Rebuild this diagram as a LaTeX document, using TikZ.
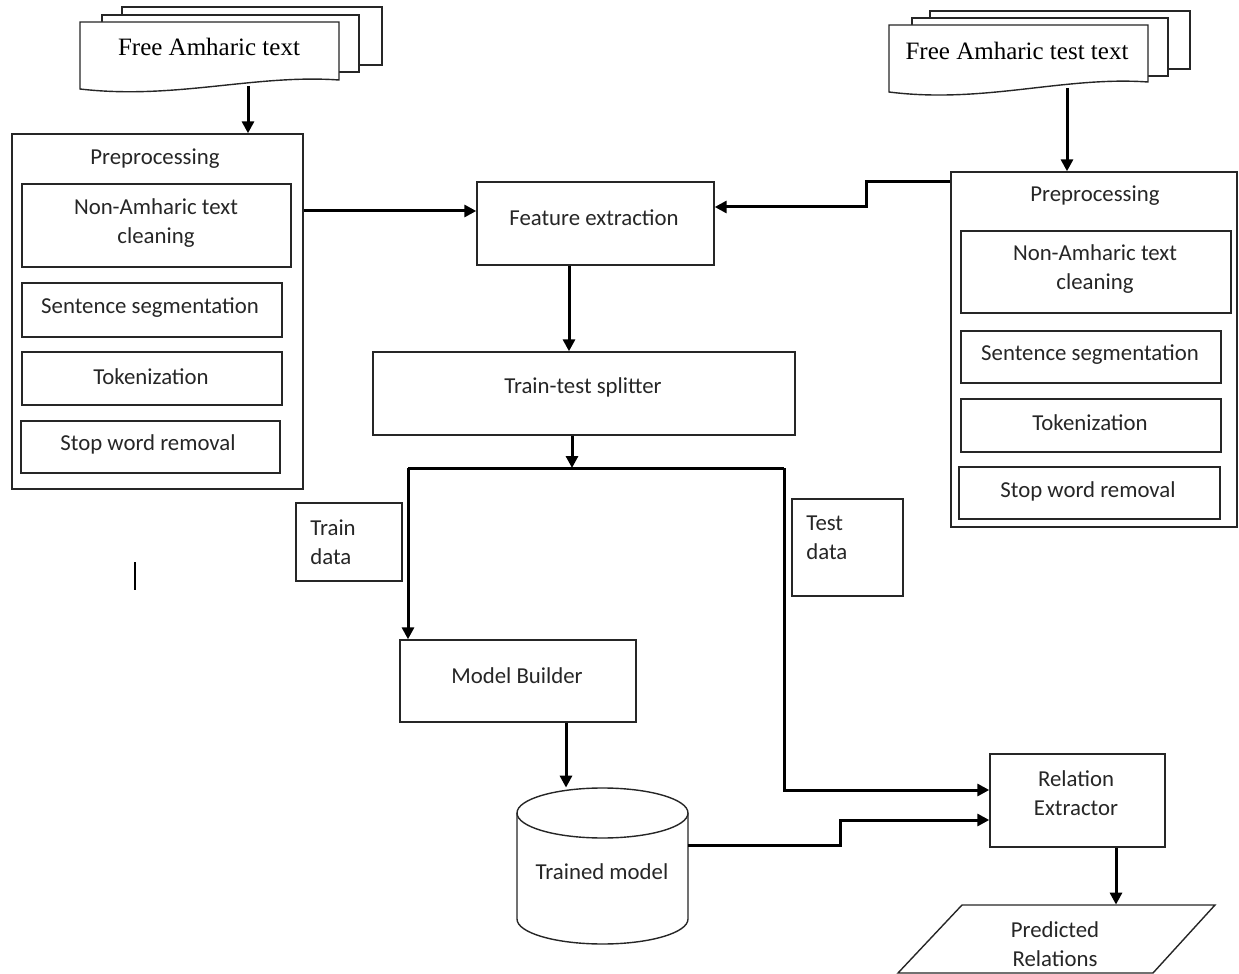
\documentclass[tikz,border=0pt]{standalone}
\usepackage{fontspec}
\setmainfont{Carlito}
\newfontfamily\docfont{Liberation Serif}
\usetikzlibrary{arrows.meta,fit}

\begin{document}
\begin{tikzpicture}[x=0.5pt,y=-0.5pt,
  box/.style={draw=black!85, line width=0.7pt, fill=white, inner sep=0pt},
  txt/.style={font=\fontsize{11.4}{14.5}\selectfont, text=black!85, inner sep=0pt, align=center, yshift=-1.2pt},
  doctxt/.style={font=\docfont\fontsize{12.5}{15}\selectfont, inner sep=0pt},
  sheet/.style={draw=black!85, line width=0.7pt, fill=white},
  flow/.style={line width=1.5pt},
  arr/.style={flow, -{Triangle[length=6pt,width=6pt]}}]
\useasboundingbox (0,0) rectangle (1239,974);

% ---------- training documents ----------
\draw[sheet] (122,7) rectangle (382,65);
\draw[sheet] (102,15) rectangle (359,72);
\draw[sheet] (80,22) -- (339,22) -- (339,80)
  .. controls (255,74) and (175,100) .. (80,89) -- cycle;
\node[doctxt] (docL) at (209,47) {Free Amharic text};
\coordinate (docL-out) at (248,86);

% ---------- test documents ----------
\draw[sheet] (930,11) rectangle (1190,69);
\draw[sheet] (912,18) rectangle (1168,76);
\draw[sheet] (889,25) -- (1148,25) -- (1148,82)
  .. controls (1064,76) and (984,104) .. (889,92) -- cycle;
\node[doctxt] (docR) at (1017,51) {Free Amharic test text};
\coordinate (docR-out) at (1067,88);

% ---------- left preprocessing ----------
\node[box, fit={(12,134) (303,489)}] (prepL) {};
\node[txt] (prepL-t) at (155,156) {Preprocessing};
\node[box, fit={(22,184) (291,267)}] (cleanL) {};
\node[txt] (cleanL-t) at (156,221) {Non-Amharic text\\cleaning};
\node[box, fit={(22,283) (282,337)}] (segL) {};
\node[txt] (segL-t) at (150,305) {Sentence segmentation};
\node[box, fit={(22,352) (282,405)}] (tokL) {};
\node[txt] (tokL-t) at (151,374) {Tokenization};
\node[box, fit={(21,421) (280,473)}] (stopL) {};
\node[txt] (stopL-t) at (148,442) {Stop word removal};

% ---------- right preprocessing ----------
\node[box, fit={(951,172) (1237,527)}] (prepR) {};
\node[txt] (prepR-t) at (1095,193) {Preprocessing};
\node[box, fit={(961,231) (1231,313)}] (cleanR) {};
\node[txt] (cleanR-t) at (1095,267) {Non-Amharic text\\cleaning};
\node[box, fit={(961,331) (1221,383)}] (segR) {};
\node[txt] (segR-t) at (1090,352) {Sentence segmentation};
\node[box, fit={(961,399) (1221,452)}] (tokR) {};
\node[txt] (tokR-t) at (1090,420) {Tokenization};
\node[box, fit={(959,467) (1220,519)}] (stopR) {};
\node[txt] (stopR-t) at (1088,489) {Stop word removal};

% ---------- central pipeline ----------
\node[box, fit={(477,182) (714,265)}] (fe) {};
\node[txt] (fe-t) at (594,215) {Feature extraction};
\node[box, fit={(373,352) (795,435)}] (tts) {};
\node[txt] (tts-t) at (583,385) {Train-test splitter};

\node[box, fit={(296,503) (402,581)}] (trd) {};
\node[txt, align=left, anchor=west] (trd-t) at (310,539.5) {Train\\data};
\node[box, fit={(792,499) (903,596)}] (ted) {};
\node[txt, align=left, anchor=west] (ted-t) at (806,535.5) {Test\\data};

\node[box, fit={(400,640) (636,722)}] (mb) {};
\node[txt] (mb-t) at (517,673) {Model Builder};

% trained model store
\draw[sheet] (517,813) -- (517,919)
  arc[start angle=180, end angle=360, x radius=42.75pt, y radius=12.5pt] -- (688,813);
\draw[sheet] (602.5,813) ellipse [x radius=42.75pt, y radius=12.5pt];
\node[inner sep=0pt, fit={(517,788) (688,944)}] (tm) {};
\node[txt] (tm-t) at (602,869) {Trained model};

\node[box, fit={(990,754) (1165,847)}] (re) {};
\node[txt] (re-t) at (1076,790.5) {Relation\\Extractor};

% predicted output
\draw[sheet] (962,905) -- (1215,905) -- (1153,973) -- (898,973) -- cycle;
\node[inner sep=0pt, fit={(898,905) (1215,973)}] (pr) {};
\node[txt] (pr-t) at (1055,941.5) {Predicted\\Relations};

% ---------- connectors ----------
\draw[arr] (docL-out) -- (docL-out |- prepL.north);
\draw[arr] (docR-out) -- (docR-out |- prepR.north);
\draw[arr] (prepL.east |- 0,211) -- (fe.west |- 0,211);
\draw[arr] (prepR.west |- 0,182) -- (866,182) -- (866,207) -- (fe.east |- 0,207);
\draw[arr] (fe.south -| 569,0) -- (tts.north -| 569,0);

\coordinate (split) at (572,468);
\coordinate (trainbr) at (408,468);
\coordinate (testbr) at (784,468);
\draw[arr] (tts.south -| split) -- (split);
\draw[flow] (trainbr) -- (testbr);
\draw[arr] (trainbr) -- (trainbr |- mb.north);
\draw[arr] (testbr) -- (testbr |- 0,790) -- (re.west |- 0,790);

\draw[arr] (mb.south -| 566,0) -- (tm.north -| 566,0);
\draw[arr] (tm.east |- 0,845) -- (840,845) -- (840,820) -- (re.west |- 0,820);
\draw[arr] (re.south -| 1116,0) -- (pr.north -| 1116,0);

% stray mark
\draw[line width=0.9pt] (135,562) -- (135,590);
\end{tikzpicture}
\end{document}
